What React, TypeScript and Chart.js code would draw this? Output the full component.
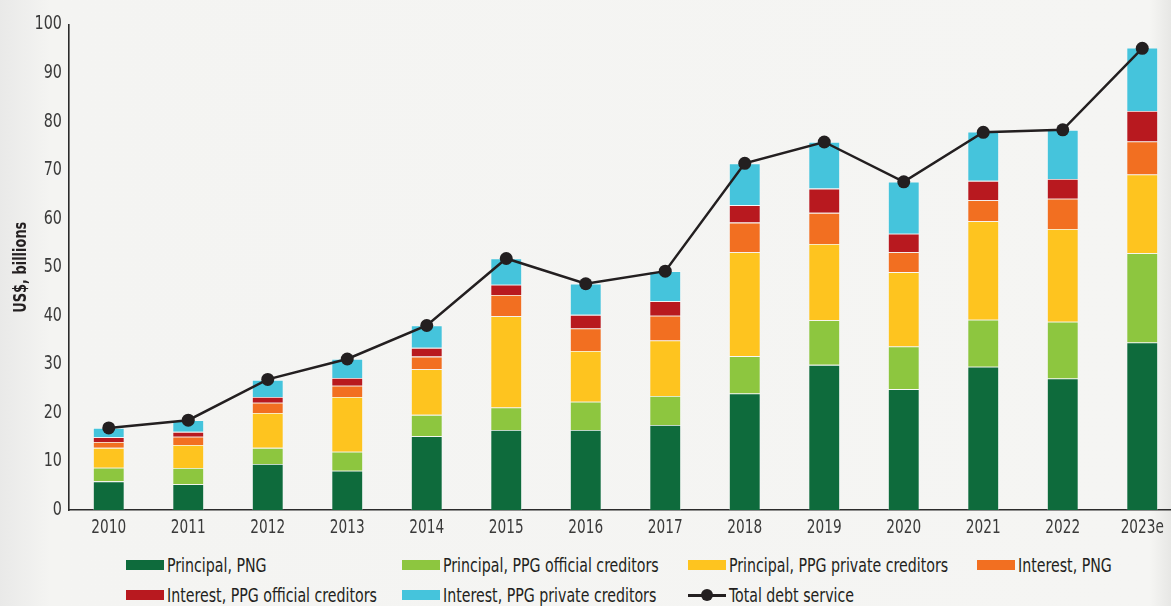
import React, { useEffect, useRef } from "react";
import { Chart, registerables } from "chart.js";

Chart.register(...registerables);

const categories = ["2010", "2011", "2012", "2013", "2014", "2015", "2016", "2017", "2018", "2019", "2020", "2021", "2022", "2023e"];

const principalPNG = [5.9, 5.3, 9.5, 8.1, 15.2, 16.5, 16.5, 17.5, 24.0, 29.9, 24.9, 29.5, 27.1, 34.5];
const principalPPGOfficial = [2.8, 3.35, 3.3, 3.9, 4.4, 4.6, 5.8, 6.0, 7.7, 9.2, 8.8, 9.7, 11.7, 18.4];
const principalPPGPrivate = [4.1, 4.75, 7.2, 11.3, 9.4, 18.8, 10.45, 11.4, 21.4, 15.7, 15.3, 20.3, 19.1, 16.2];
const interestPNG = [1.2, 1.7, 2.1, 2.3, 2.6, 4.4, 4.65, 5.1, 6.1, 6.4, 4.1, 4.3, 6.2, 6.8];
const interestPPGOfficial = [1.0, 1.0, 1.2, 1.6, 1.8, 2.1, 2.8, 3.0, 3.6, 5.0, 3.8, 4.0, 4.1, 6.3];
const interestPPGPrivate = [1.9, 2.4, 3.5, 3.9, 4.6, 5.4, 6.4, 6.2, 8.6, 9.6, 10.7, 10.1, 10.1, 13.0];
const totalDebtService = [16.9, 18.5, 26.9, 31.1, 38.0, 51.8, 46.6, 49.2, 71.4, 75.8, 67.6, 77.8, 78.3, 95.1];

const yTickValues = [0, 10, 20, 30, 40, 50, 60, 70, 80, 90, 100];
const yAxisTitle = "US$, billions";

const barSeries = [
  { label: "Principal, PNG", data: principalPNG, color: "#0e6b3c" },
  { label: "Principal, PPG official creditors", data: principalPPGOfficial, color: "#8dc63f" },
  { label: "Principal, PPG private creditors", data: principalPPGPrivate, color: "#fec41f" },
  { label: "Interest, PNG", data: interestPNG, color: "#f26f21" },
  { label: "Interest, PPG official creditors", data: interestPPGOfficial, color: "#b8191f" },
  { label: "Interest, PPG private creditors", data: interestPPGPrivate, color: "#45c4dc" },
];
const lineLabel = "Total debt service";
const lineColor = "#231f20";

const FONT = '"DejaVu Sans Condensed", "DejaVu Sans", sans-serif';
const SX = 0.8; // horizontal squeeze to mimic a condensed typeface

const condensedAxisText = {
  id: "condensedAxisText",
  afterDraw(chart: any) {
    const ctx = chart.ctx as CanvasRenderingContext2D;
    const xs = chart.scales.x;
    const ys = chart.scales.y;
    ctx.save();
    ctx.fillStyle = "#3a3a3a";
    ctx.font = `19px ${FONT}`;
    ctx.textBaseline = "middle";
    // x tick labels
    ctx.textAlign = "center";
    categories.forEach((c, i) => {
      const x = xs.getPixelForTick(i);
      ctx.save();
      ctx.translate(x, xs.top + 18);
      ctx.scale(SX, 1);
      ctx.fillText(c, 0, 0);
      ctx.restore();
    });
    // y tick labels
    ctx.textAlign = "right";
    yTickValues.forEach((v) => {
      const y = ys.getPixelForValue(v);
      ctx.save();
      ctx.translate(ys.right - 7, y);
      ctx.scale(SX + 0.04, 1);
      ctx.fillText(String(v), 0, 0);
      ctx.restore();
    });
    // y title
    ctx.fillStyle = "#231f20";
    ctx.font = `bold 18px ${FONT}`;
    ctx.textAlign = "center";
    ctx.save();
    ctx.translate(ys.left + 21, (ys.top + ys.bottom) / 2);
    ctx.rotate(-Math.PI / 2);
    ctx.scale(SX, 1);
    ctx.fillText(yAxisTitle, 0, 0);
    ctx.restore();
    ctx.restore();
  },
};

export default function App() {
  const canvasRef = useRef<HTMLCanvasElement | null>(null);

  useEffect(() => {
    document.body.style.margin = "0";
    const canvas = canvasRef.current;
    if (!canvas) return;
    const chart = new Chart(canvas, {
      type: "bar",
      data: {
        labels: categories,
        datasets: [
          {
            type: "line",
            label: lineLabel,
            data: totalDebtService,
            borderColor: lineColor,
            backgroundColor: lineColor,
            borderWidth: 2.5,
            pointRadius: 6.5,
            pointBackgroundColor: lineColor,
            pointBorderWidth: 0,
            tension: 0,
            stack: "total",
            order: 0,
          } as any,
          ...barSeries.map((s) => ({
            type: "bar",
            label: s.label,
            data: s.data,
            backgroundColor: s.color,
            borderColor: "rgba(255,255,255,0.35)",
            borderWidth: 0.8,
            stack: "debt",
            order: 1,
            barPercentage: 0.396,
            categoryPercentage: 1,
          })),
        ] as any,
      },
      options: {
        responsive: false,
        animation: false,
        layout: { padding: { top: 24.5, right: 8, bottom: 0, left: 0 } },
        plugins: {
          legend: { display: false },
          tooltip: { enabled: false },
        },
        scales: {
          x: {
            stacked: true,
            offset: true,
            grid: { display: false, drawTicks: false },
            border: { display: true, color: "#2b2b2b", width: 1.6 },
            ticks: { display: false, autoSkip: false },
            afterFit: (scale: any) => {
              scale.height = 36;
            },
          },
          y: {
            stacked: true,
            min: 0,
            max: 100,
            afterBuildTicks: (scale: any) => {
              scale.ticks = yTickValues.map((v) => ({ value: v }));
            },
            grid: { display: false, drawTicks: false },
            border: { display: true, color: "#2b2b2b", width: 1.6 },
            ticks: { display: false },
            afterFit: (scale: any) => {
              scale.width = 69;
            },
          },
        },
      },
      plugins: [condensedAxisText],
    });
    return () => chart.destroy();
  }, []);

  const legendItems = [
    ...barSeries.map((s) => ({ label: s.label, color: s.color, line: false })),
    { label: lineLabel, color: lineColor, line: true },
  ];
  const colLefts = [126, 402, 688, 977];
  const rowTops = [554, 584];

  return (
    <div
      style={{
        position: "fixed",
        left: 0,
        top: 0,
        width: 1171,
        height: 606,
        overflow: "hidden",
        background:
          "linear-gradient(to right, #e9e9e8 0px, #f4f4f2 50px, #f5f5f3 1150px, #e7e7e5 1171px)",
      }}
    >
      <canvas
        ref={canvasRef}
        width={1190}
        height={546}
        style={{ position: "absolute", left: 0, top: 0, width: 1190, height: 546 }}
      />
      {legendItems.map((item, i) => {
        const row = i < 4 ? 0 : 1;
        const col = i < 4 ? i : i - 4;
        return (
          <div
            key={item.label}
            style={{
              position: "absolute",
              left: colLefts[col],
              top: rowTops[row],
              height: 22,
              display: "flex",
              alignItems: "center",
              fontFamily: FONT,
              fontSize: 19,
              color: "#231f20",
              whiteSpace: "nowrap",
            }}
          >
            {item.line ? (
              <span style={{ position: "relative", width: 38, height: 12, marginRight: 3, display: "inline-block" }}>
                <span
                  style={{
                    position: "absolute",
                    left: 0,
                    top: 5,
                    width: 38,
                    height: 2.5,
                    background: item.color,
                  }}
                />
                <span
                  style={{
                    position: "absolute",
                    left: 13,
                    top: 0,
                    width: 12,
                    height: 12,
                    borderRadius: 6,
                    background: item.color,
                  }}
                />
              </span>
            ) : (
              <span
                style={{
                  width: 38,
                  height: 10,
                  background: item.color,
                  marginRight: 3,
                  display: "inline-block",
                }}
              />
            )}
            <span
              style={{
                display: "inline-block",
                transform: "scaleX(0.83)",
                transformOrigin: "left center",
              }}
            >
              {item.label}
            </span>
          </div>
        );
      })}
    </div>
  );
}
